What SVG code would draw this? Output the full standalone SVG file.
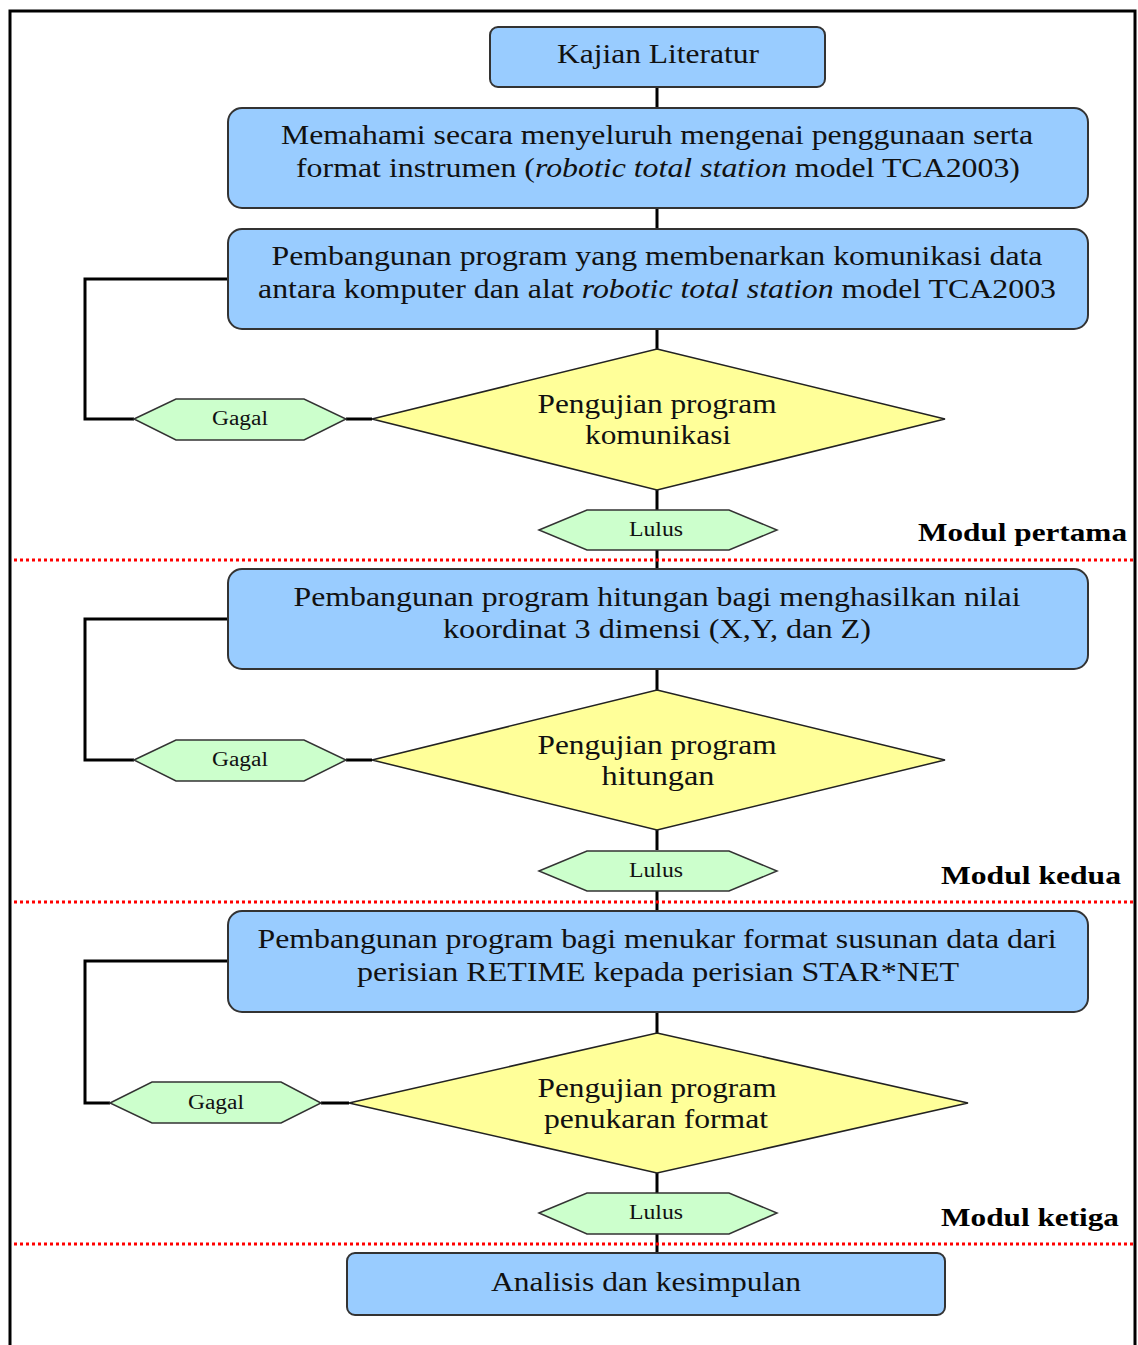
<svg xmlns="http://www.w3.org/2000/svg" width="1138" height="1345" viewBox="0 0 1138 1345">
<style>
.box{fill:#99CCFF;stroke:#333;stroke-width:2}
.dia{fill:#FFFF99;stroke:#222;stroke-width:1.5}
.hex{fill:#CCFFCC;stroke:#333;stroke-width:1.5}
text{font-family:'Liberation Serif','Times New Roman','DejaVu Serif',serif}
.t{font-size:27px;fill:#111;text-anchor:middle}
.s{font-size:20px;fill:#111;text-anchor:middle}
.m{font-size:26px;font-weight:bold;fill:#000;text-anchor:end}
.c{fill:none;stroke:#000;stroke-width:3}
.d{fill:none;stroke:#FF0000;stroke-width:3;stroke-dasharray:3 3}
</style>
<rect x="0" y="0" width="1138" height="1345" fill="#fff"/>
<path d="M10 1345 V11 H1135 V1345" fill="none" stroke="#000" stroke-width="3"/>

<g id="connectors">
<path class="c" d="M657 87 V108 M657 208 V229 M657 329 V349 M657 490 V510 M657 550 V569 M657 669 V690 M657 830 V850 M657 891 V911 M657 1012 V1033 M657 1173 V1193 M657 1234 V1253"/>
<path class="c" d="M228 279 H85 V419 H134 M346 419 H372"/>
<path class="c" d="M228 619 H85 V760 H134 M346 760 H372"/>
<path class="c" d="M228 961 H85 V1103 H110 M321 1103 H349"/>
</g>

<g id="separators">
<line class="d" x1="14" y1="560" x2="1133" y2="560"/>
<line class="d" x1="14" y1="902" x2="1133" y2="902"/>
<line class="d" x1="14" y1="1244" x2="1133" y2="1244"/>
<text class="m" x="1127" y="541" textLength="209" lengthAdjust="spacingAndGlyphs">Modul pertama</text>
<text class="m" x="1121" y="884" textLength="180" lengthAdjust="spacingAndGlyphs">Modul kedua</text>
<text class="m" x="1119" y="1226" textLength="178" lengthAdjust="spacingAndGlyphs">Modul ketiga</text>
</g>

<g id="n1">
<rect class="box" x="490" y="27" width="335" height="60" rx="8"/>
<text class="t" x="658" y="63" textLength="202" lengthAdjust="spacingAndGlyphs">Kajian Literatur</text>
</g>

<g id="n2">
<rect class="box" x="228" y="108" width="860" height="100" rx="14"/>
<text class="t" x="657" y="144" textLength="752" lengthAdjust="spacingAndGlyphs">Memahami secara menyeluruh mengenai penggunaan serta</text>
<text class="t" x="658" y="177" textLength="724" lengthAdjust="spacingAndGlyphs">format instrumen (<tspan font-style="italic">robotic total station</tspan> model TCA2003)</text>
</g>

<g id="n3">
<rect class="box" x="228" y="229" width="860" height="100" rx="14"/>
<text class="t" x="657" y="265" textLength="771" lengthAdjust="spacingAndGlyphs">Pembangunan program yang membenarkan komunikasi data</text>
<text class="t" x="657" y="298" textLength="798" lengthAdjust="spacingAndGlyphs">antara komputer dan alat <tspan font-style="italic">robotic total station</tspan> model TCA2003</text>
</g>

<g id="d1">
<polygon class="dia" points="657,349 945,419 657,490 372,419"/>
<text class="t" x="657" y="413" textLength="239" lengthAdjust="spacingAndGlyphs">Pengujian program</text>
<text class="t" x="658" y="444" textLength="146" lengthAdjust="spacingAndGlyphs">komunikasi</text>
</g>

<g id="g1">
<polygon class="hex" points="134,419 176,399 304,399 346,419 304,440 176,440"/>
<text class="s" x="240" y="425" textLength="56" lengthAdjust="spacingAndGlyphs">Gagal</text>
</g>

<g id="l1">
<polygon class="hex" points="539,530 587,510 729,510 777,530 729,550 587,550"/>
<text class="s" x="656" y="536" textLength="54" lengthAdjust="spacingAndGlyphs">Lulus</text>
</g>

<g id="n4">
<rect class="box" x="228" y="569" width="860" height="100" rx="14"/>
<text class="t" x="657" y="606" textLength="727" lengthAdjust="spacingAndGlyphs">Pembangunan program hitungan bagi menghasilkan nilai</text>
<text class="t" x="657" y="638" textLength="428" lengthAdjust="spacingAndGlyphs">koordinat 3 dimensi (X,Y, dan Z)</text>
</g>

<g id="d2">
<polygon class="dia" points="657,690 945,760 657,830 372,760"/>
<text class="t" x="657" y="754" textLength="239" lengthAdjust="spacingAndGlyphs">Pengujian program</text>
<text class="t" x="658" y="785" textLength="113" lengthAdjust="spacingAndGlyphs">hitungan</text>
</g>

<g id="g2">
<polygon class="hex" points="134,760 176,740 304,740 346,760 304,781 176,781"/>
<text class="s" x="240" y="766" textLength="56" lengthAdjust="spacingAndGlyphs">Gagal</text>
</g>

<g id="l2">
<polygon class="hex" points="539,871 587,851 729,851 777,871 729,891 587,891"/>
<text class="s" x="656" y="877" textLength="54" lengthAdjust="spacingAndGlyphs">Lulus</text>
</g>

<g id="n5">
<rect class="box" x="228" y="911" width="860" height="101" rx="14"/>
<text class="t" x="657" y="948" textLength="799" lengthAdjust="spacingAndGlyphs">Pembangunan program bagi menukar format susunan data dari</text>
<text class="t" x="658" y="981" textLength="602" lengthAdjust="spacingAndGlyphs">perisian RETIME kepada perisian STAR*NET</text>
</g>

<g id="d3">
<polygon class="dia" points="657,1033 968,1103 657,1173 349,1103"/>
<text class="t" x="657" y="1097" textLength="239" lengthAdjust="spacingAndGlyphs">Pengujian program</text>
<text class="t" x="656" y="1128" textLength="224" lengthAdjust="spacingAndGlyphs">penukaran format</text>
</g>

<g id="g3">
<polygon class="hex" points="110,1103 152,1082 281,1082 321,1103 281,1123 152,1123"/>
<text class="s" x="216" y="1109" textLength="56" lengthAdjust="spacingAndGlyphs">Gagal</text>
</g>

<g id="l3">
<polygon class="hex" points="539,1213 587,1193 729,1193 777,1213 729,1234 587,1234"/>
<text class="s" x="656" y="1219" textLength="54" lengthAdjust="spacingAndGlyphs">Lulus</text>
</g>

<g id="n6">
<rect class="box" x="347" y="1253" width="598" height="62" rx="8"/>
<text class="t" x="646" y="1291" textLength="310" lengthAdjust="spacingAndGlyphs">Analisis dan kesimpulan</text>
</g>
</svg>
